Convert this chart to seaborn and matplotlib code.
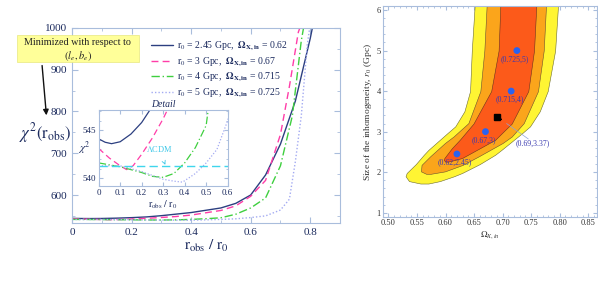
import numpy as np
import pandas as pd
import matplotlib
matplotlib.use('Agg')
import matplotlib.pyplot as plt
from matplotlib.patches import Rectangle
from matplotlib.ticker import MultipleLocator, FuncFormatter, FormatStrFormatter
import seaborn as sns

# ---- chi^2 curves (left panel + inset) ----
x_245 = [0, 0.03, 0.06, 0.1, 0.15, 0.2, 0.25, 0.3, 0.4, 0.5, 0.55, 0.6, 0.65, 0.7, 0.75, 0.8, 0.81]
y_245 = [544.1, 543.75, 543.6, 543.8, 544.6, 545.8, 547.5, 550.5, 558, 569, 580, 600, 648, 722, 825, 975, 1010]
x_3 = [0, 0.05, 0.1, 0.13, 0.16, 0.2, 0.25, 0.3, 0.35, 0.4, 0.5, 0.55, 0.6, 0.65, 0.7, 0.73, 0.76, 0.77]
y_3 = [543.1, 542.1, 541.3, 540.9, 541.3, 542.5, 544.2, 546.2, 548.5, 552, 563, 574, 597, 635, 745, 860, 990, 1010]
x_4 = [0, 0.1, 0.2, 0.25, 0.3, 0.35, 0.4, 0.45, 0.5, 0.55, 0.6, 0.65, 0.7, 0.74, 0.77, 0.78]
y_4 = [541.6, 541.2, 540.6, 540.2, 540.1, 540.5, 541.6, 543.2, 545.5, 554, 569, 593, 670, 790, 970, 1010]
x_5 = [0, 0.1, 0.2, 0.3, 0.35, 0.39, 0.45, 0.5, 0.55, 0.6, 0.65, 0.7, 0.73, 0.75, 0.77, 0.79, 0.8]
y_5 = [541.3, 541.3, 540.7, 539.9, 539.7, 539.6, 540.5, 541.6, 543, 546, 550, 564, 590, 680, 790, 960, 1010]
lcdm = 541.25

labels = [r'$\mathrm{r_0}$ = 2.45 Gpc,  $\mathbf{\Omega_{X,in}}$ = 0.62',
          r'$\mathrm{r_0}$ = 3 Gpc,  $\mathbf{\Omega_{X,in}}$ = 0.67',
          r'$\mathrm{r_0}$ = 4 Gpc,  $\mathbf{\Omega_{X,in}}$ = 0.715',
          r'$\mathrm{r_0}$ = 5 Gpc,  $\mathbf{\Omega_{X,in}}$ = 0.725']

# ---- confidence bands (right panel), edges read per height ----
red_y = [2.26, 2.3, 2.35, 2.59, 2.80, 3.05, 3.2, 4.0, 5.0, 6.1]
red_l = [0.600, 0.597, 0.598, 0.611, 0.625, 0.640, 0.649, 0.680, 0.693, 0.696]
red_r = [0.604, 0.616, 0.629, 0.660, 0.687, 0.705, 0.716, 0.745, 0.755, 0.759]
org_y = [1.96, 2.02, 2.18, 2.39, 2.72, 2.88, 3.21, 4.0, 5.0, 6.1]
org_l = [0.566, 0.557, 0.558, 0.573, 0.599, 0.614, 0.640, 0.661, 0.668, 0.672]
org_r = [0.574, 0.599, 0.630, 0.658, 0.700, 0.716, 0.737, 0.762, 0.772, 0.776]
yel_y = [1.72, 1.78, 1.9, 1.98, 2.2, 2.43, 2.55, 2.96, 3.13, 3.5, 4.0, 5.0, 6.1]
yel_l = [0.556, 0.536, 0.530, 0.532, 0.548, 0.562, 0.570, 0.603, 0.617, 0.633, 0.643, 0.646, 0.651]
yel_r = [0.570, 0.590, 0.615, 0.629, 0.660, 0.687, 0.698, 0.734, 0.748, 0.765, 0.779, 0.792, 0.797]

pt_om = [0.725, 0.715, 0.67, 0.62]
pt_r0 = [5, 4, 3, 2.45]
pt_lab = ['(0.725,5)', '(0.715,4)', '(0.67,3)', '(0.62,2.45)']
best = (0.69, 3.37)

sns.set_style('ticks')
plt.rcParams['font.family'] = ['Liberation Serif', 'DejaVu Serif']
plt.rcParams['mathtext.fontset'] = 'stix'

navy = '#1c2b5e'
frame = '#a9bddc'
colors = ['#2c3f80', '#ff3da8', '#3fcf3f', '#a3aaf2']
dashes = ['-', (0, (5, 3)), (0, (6, 2, 1, 2)), (0, (1, 1.5))]
fmt0 = FuncFormatter(lambda v, p: '0' if abs(v) < 1e-9 else f'{v:.1f}')

df = pd.concat([
    pd.DataFrame({'r': x, 'chi2': y, 'model': lab})
    for x, y, lab in [(x_245, y_245, labels[0]), (x_3, y_3, labels[1]),
                      (x_4, y_4, labels[2]), (x_5, y_5, labels[3])]])

fig = plt.figure(figsize=(5.98, 2.99), dpi=100)
ax = fig.add_axes([0.1204, 0.2552, 0.4482, 0.6512])

for (lab, sub), c, d in zip(df.groupby('model', sort=False), colors, dashes):
    sns.lineplot(data=sub, x='r', y='chi2', ax=ax, color=c, lw=1.0,
                 linestyle=d, label=lab, sort=False, estimator=None)

ax.set_xlim(0, 0.9)
ax.set_ylim(533.7, 1000)
ax.xaxis.set_major_locator(MultipleLocator(0.2))
ax.xaxis.set_minor_locator(MultipleLocator(0.1))
ax.yaxis.set_major_locator(MultipleLocator(100))
ax.yaxis.set_minor_locator(MultipleLocator(50))
ax.xaxis.set_major_formatter(fmt0)
ax.tick_params(which='both', direction='in', top=True, right=True, color=frame,
               labelsize=8, labelcolor=navy)
ax.tick_params(which='major', length=4)
ax.tick_params(which='minor', length=2)
for s in ax.spines.values():
    s.set_color(frame)
ax.set_xlabel(r'$\mathrm{r_{obs}}\ /\ \mathrm{r_0}$', fontsize=11, color=navy, labelpad=1)
ax.set_ylabel('')
leg = ax.legend(loc='upper left', bbox_to_anchor=(0.27, 0.975), frameon=False, fontsize=7,
                handlelength=2.2, handletextpad=0.5, labelspacing=0.25, borderpad=0.2)
for t in leg.get_texts():
    t.set_color(navy)

fig.text(0.075, 0.555, r'$\chi^2(\mathrm{r_{obs}})$', fontsize=12, color=navy, ha='center', va='center')

# yellow note and arrow
fig.add_artist(Rectangle((0.028, 0.793), 0.204, 0.09, transform=fig.transFigure,
                         facecolor='#ffff99', edgecolor='#e8e880', lw=0.5))
fig.text(0.130, 0.858, 'Minimized with respect to', fontsize=7.3, ha='center', va='center', color='#222222')
fig.text(0.130, 0.813, r'$(l_e, b_e)$', fontsize=7.5, ha='center', va='center', color='#222222')
ax.annotate('', xy=(0.078, 0.605), xytext=(0.070, 0.79), xycoords='figure fraction',
            textcoords='figure fraction', annotation_clip=False,
            arrowprops=dict(arrowstyle='-|>', color='#111111', lw=1.0, mutation_scale=8))

# inset "Detail"
ins = fig.add_axes([0.165, 0.378, 0.2157, 0.254])
for (lab, sub), c, d in zip(df.groupby('model', sort=False), colors, dashes):
    sns.lineplot(data=sub, x='r', y='chi2', ax=ins, color=c, lw=0.9,
                 linestyle=d, sort=False, estimator=None, legend=False)
ins.axhline(lcdm, color='#3fd6ec', lw=1.0, ls=(0, (6, 3)))
ins.annotate(r'$\Lambda$CDM', xy=(0.31, lcdm + 0.15), xytext=(0.28, 543.0),
             fontsize=6, color='#3fc8e8', ha='center', va='center',
             arrowprops=dict(arrowstyle='->', color='#3fc8e8', lw=0.6, shrinkA=4, shrinkB=0))
ins.set_xlim(0, 0.6)
ins.set_ylim(539.2, 547.1)
ins.xaxis.set_major_locator(MultipleLocator(0.1))
ins.xaxis.set_major_formatter(fmt0)
ins.set_yticks([540, 545])
ins.yaxis.set_minor_locator(MultipleLocator(1))
ins.tick_params(which='both', direction='in', top=True, right=True, color=frame,
                labelsize=6.5, labelcolor=navy, pad=2)
ins.tick_params(which='major', length=3)
ins.tick_params(which='minor', length=1.5)
for s in ins.spines.values():
    s.set_color(frame)
ins.set_xlabel(r'$\mathrm{r_{obs}}\ /\ \mathrm{r_0}$', fontsize=7, color=navy, labelpad=1)
ins.set_ylabel(r'$\chi^2$', fontsize=8, color=navy, rotation=0, va='center', labelpad=4)
ins.yaxis.set_label_coords(-0.11, 0.5)
ins.set_title('Detail', fontsize=7, style='italic', color=navy, pad=2)

# right panel: confidence regions
ax2 = fig.add_axes([0.640, 0.275, 0.358, 0.705])
ax2.fill_betweenx(yel_y, yel_l, yel_r, color='#fff533', ec='#6b6b30', lw=0.4)
ax2.fill_betweenx(org_y, org_l, org_r, color='#fba51b', ec='#6b5030', lw=0.4)
ax2.fill_betweenx(red_y, red_l, red_r, color='#fc5a1a', ec='#6b3020', lw=0.4)
pts = pd.DataFrame({'om': pt_om, 'r0': pt_r0})
sns.scatterplot(data=pts, x='om', y='r0', ax=ax2, color='#2a62f0', s=24, edgecolor='none', zorder=5)
for om, r0, t in zip(pt_om, pt_r0, pt_lab):
    ax2.text(om - 0.003, r0 - 0.11, t, fontsize=5.6, color='#3a3ab0', ha='center', va='top')
ax2.plot([best[0]], [best[1]], marker='s', color='k', ms=4, ls='none', zorder=6)
ax2.annotate('', xy=(0.703, 3.25), xytext=(best[0] + 0.004, best[1] - 0.03),
             arrowprops=dict(arrowstyle='-|>', color='k', lw=0.6, mutation_scale=5))
ax2.plot([0.707, 0.745], [3.2, 2.82], color='#8fa4d8', lw=0.5)
ax2.text(0.752, 2.72, '(0.69,3.37)', fontsize=5.6, color='#3a3ab0', ha='center', va='center')

ax2.set_xlim(0.49, 0.865)
ax2.set_ylim(0.9, 6.1)
ax2.xaxis.set_major_locator(MultipleLocator(0.05))
ax2.xaxis.set_minor_locator(MultipleLocator(0.01))
ax2.yaxis.set_major_locator(MultipleLocator(1))
ax2.yaxis.set_minor_locator(MultipleLocator(0.2))
ax2.xaxis.set_major_formatter(FormatStrFormatter('%.2f'))
ax2.tick_params(which='both', direction='in', top=True, right=True, color=frame,
                labelsize=6, labelcolor='#333333', pad=1.5)
ax2.tick_params(which='major', length=3)
ax2.tick_params(which='minor', length=1.5)
for s in ax2.spines.values():
    s.set_color(frame)
ax2.set_xlabel(r'$\Omega_{X,in}$', fontsize=6.5, color='#333333', labelpad=2)
ax2.set_ylabel(r'Size of the inhomogeneity, $r_0$ (Gpc)', fontsize=6.8, color='#333333', labelpad=2)

fig.savefig('out.png', dpi=100)
